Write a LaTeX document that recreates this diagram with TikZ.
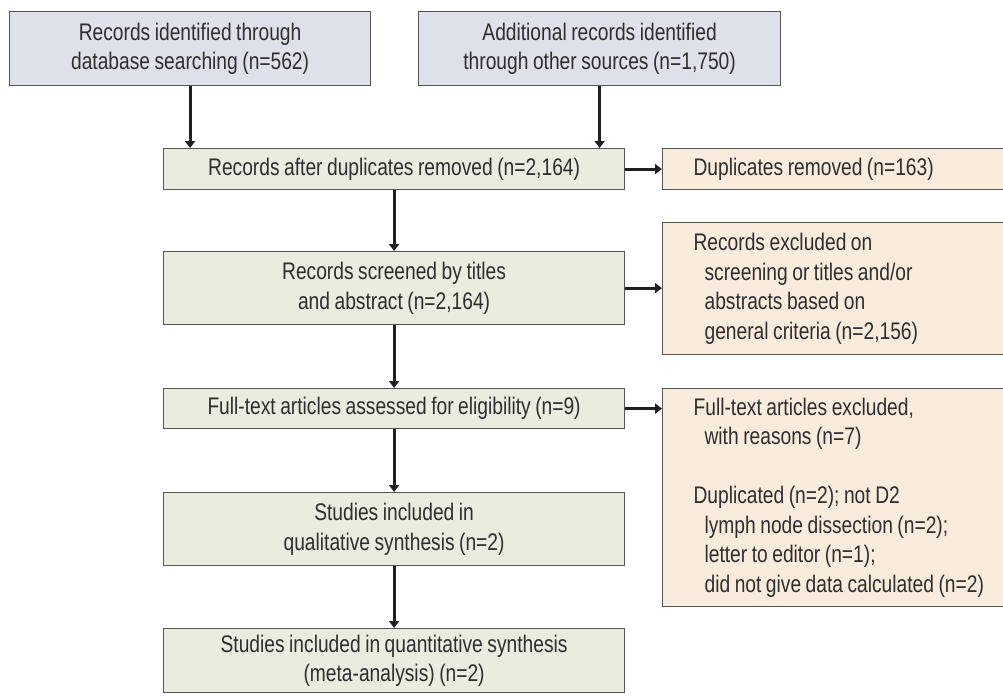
\documentclass[tikz,border=0pt]{standalone}
\usepackage{fontspec}
\setmainfont{Liberation Sans}[FakeStretch=0.8,WordSpace=0.85]
\usetikzlibrary{arrows.meta}
\definecolor{bluefill}{HTML}{DFE1EA}
\definecolor{greenfill}{HTML}{E9ECDF}
\definecolor{orangefill}{HTML}{F9ECDD}
\definecolor{edge}{HTML}{555555}
\definecolor{ink}{HTML}{2E2E2E}
\definecolor{arr}{HTML}{231F20}
\newcommand{\natspace}{\spaceskip=0pt\xspaceskip=0pt\relax}
\begin{document}
\begin{tikzpicture}[x=1pt,y=-1pt,
  box/.style={draw=edge,line width=1.2pt,inner sep=0pt,anchor=north west,text=ink,
    font=\fontsize{24}{29.5}\selectfont},
  bluebox/.style={box,fill=bluefill,align=center},
  greenbox/.style={box,fill=greenfill,align=center},
  orangebox/.style={box,fill=orangefill,align=left,minimum width=345pt,text width=345pt},
  conn/.style={draw=arr,line width=2.8pt,-{Triangle[width=10pt,length=7pt]}}]
\useasboundingbox (0,0) rectangle (1003,696);
\begin{scope}
\clip (0,0) rectangle (1003,696);
\node[bluebox,minimum width=361pt,minimum height=74pt] (id1) at (9,11)
  {Records identified through\\database searching (n=562)};
\node[bluebox,minimum width=362pt,minimum height=74pt] (id2) at (418,11)
  {Additional records identified\\through other sources (n=1,750)};
\node[greenbox,minimum width=461pt,minimum height=41pt] (dup) at (163,148)
  {Records after duplicates removed (n=2,164)};
\node[orangebox,minimum height=41pt] (dupx) at (662,148)
  {\natspace\hspace*{31pt}Duplicates removed (n=163)};
\node[greenbox,minimum width=461pt,minimum height=73pt] (scr) at (163,251)
  {Records screened by titles\\and abstract (n=2,164)};
\node[orangebox,minimum height=132pt] (scrx) at (662,222)
  {\natspace\hspace*{31pt}Records excluded on\\
   \hspace*{42pt}screening or titles and/or\\
   \hspace*{42pt}abstracts based on\\
   \hspace*{42pt}general criteria (n=2,156)};
\node[greenbox,minimum width=461pt,minimum height=40pt] (ft) at (163,388)
  {Full-text articles assessed for eligibility (n=9)};
\node[orangebox,minimum height=218pt] (ftx) at (662,388)
  {\natspace\hspace*{31pt}Full-text articles excluded,\\
   \hspace*{42pt}with reasons (n=7)\\
   \mbox{}\\
   \hspace*{31pt}Duplicated (n=2); not D2\\
   \hspace*{42pt}lymph node dissection (n=2);\\
   \hspace*{42pt}letter to editor (n=1);\\
   \hspace*{42pt}did not give data calculated (n=2)};
\node[greenbox,minimum width=461pt,minimum height=73pt] (qual) at (163,492)
  {Studies included in\\qualitative synthesis (n=2)};
\node[greenbox,minimum width=461pt,minimum height=64pt] (quant) at (163,628)
  {Studies included in quantitative synthesis\\(meta-analysis) (n=2)};
\end{scope}
\draw[conn] (id1.south) -- (id1.south |- dup.north);
\draw[conn] (id2.south) -- (id2.south |- dup.north);
\draw[conn] (dup.east) -- (dup.east -| dupx.west);
\draw[conn] (dup.south) -- (scr.north);
\draw[conn] (scr.east) -- (scr.east -| scrx.west);
\draw[conn] (scr.south) -- (ft.north);
\draw[conn] (ft.east) -- (ft.east -| ftx.west);
\draw[conn] (ft.south) -- (qual.north);
\draw[conn] (qual.south) -- (quant.north);
\end{tikzpicture}
\end{document}
